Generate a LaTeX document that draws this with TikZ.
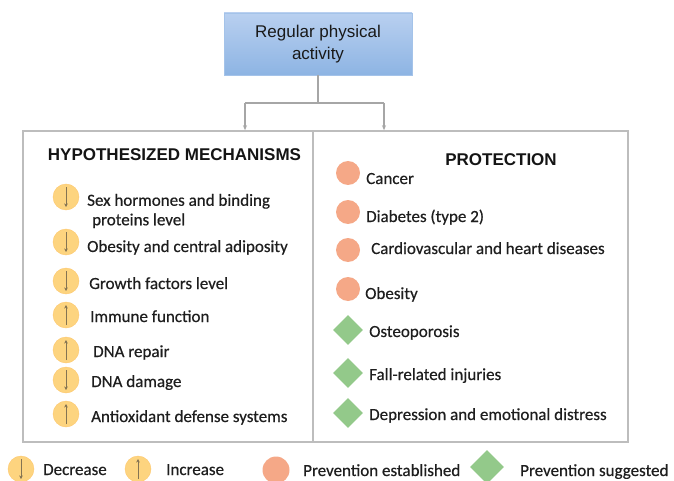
\documentclass[tikz,border=0pt]{standalone}
\usepackage{fontspec}
\setmainfont{Carlito}
\newfontfamily\itemf{Carlito}[FakeBold=0.5]
\newfontfamily\arialf{Liberation Sans}
\usetikzlibrary{shapes.geometric,arrows.meta,calc}
\definecolor{ycol}{HTML}{FDD47F}
\definecolor{ocol}{HTML}{F5A887}
\definecolor{gcol}{HTML}{93C98A}
\definecolor{arrcol}{HTML}{857452}
\definecolor{framecol}{HTML}{BDBDBD}
\definecolor{conncol}{HTML}{A6A6A6}
\definecolor{txtcol}{HTML}{1E1E1E}
\definecolor{boxtop}{HTML}{B9D0F0}
\definecolor{boxbot}{HTML}{8DB4E3}
\tikzset{
  ycirc/.style={circle, fill=ycol, draw=ycol!85!orange, line width=0.4pt, minimum size=26pt, inner sep=0pt},
  ocirc/.style={circle, fill=ocol, minimum size=24pt, inner sep=0pt},
  gdiam/.style={diamond, fill=gcol, minimum width=30pt, minimum height=30pt, inner sep=0pt},
  itemtxt/.style={anchor=west, inner sep=0pt, text height=14pt, text depth=2pt, font=\itemf\fontsize{17}{20}\selectfont, text=txtcol},
  headtxt/.style={inner sep=0pt, font=\arialf\bfseries\fontsize{17}{20}\selectfont, text=black!92},
  inarr/.style={draw=arrcol, line width=0.8pt, -{Stealth[length=3.5pt,width=3.5pt]}},
  conn/.style={draw=conncol, line width=1.3pt},
}
\begin{document}
\begin{tikzpicture}[x=1pt,y=-1pt]
\useasboundingbox (0,0) rectangle (674,481);
% top box
\node[minimum width=188pt, minimum height=62pt, top color=boxtop, bottom color=boxbot, draw=boxbot!80!white, line width=0.4pt,
  align=center, inner sep=0pt, font=\arialf\fontsize{17}{22}\selectfont, text=black!90] (top) at (318,44) {Regular physical\\activity};
% panel
\node[draw=framecol, line width=1.5pt, minimum width=605pt, minimum height=311pt, inner sep=0pt] (panel) at (325.5,286.5) {};
\coordinate (divT) at (313,131);
\coordinate (divB) at (313,442);
\draw[draw=framecol, line width=1.3pt] (divT) -- (divB);
% connectors
\coordinate (jL) at (245,103);
\coordinate (jR) at (384,103);
\draw[conn] (top.south) -- (top.south |- jL);
\draw[conn] (jL) -- (jR);
\draw[conn, -{Stealth[length=5pt,width=4pt]}] (jL) -- (jL |- panel.north);
\draw[conn, -{Stealth[length=5pt,width=4pt]}] (jR) -- (jR |- panel.north);
% headers
\node[headtxt] (hm) at (174.5,155) {HYPOTHESIZED MECHANISMS};
\node[headtxt] (hp) at (501,160) {PROTECTION};
% left items
\node[ycirc] (l1) at (66,197) {};
\node[ycirc] (l2) at (66,242) {};
\node[ycirc] (l3) at (66,281) {};
\node[ycirc] (l4) at (66,315) {};
\node[ycirc] (l5) at (66,350) {};
\node[ycirc] (l6) at (66,380) {};
\node[ycirc] (l7) at (66,414) {};
\foreach \n in {l1,l2,l3,l6}{\draw[inarr] ($(\n)+(0,-10)$) -- ($(\n)+(0,10)$);}
\foreach \n in {l4,l5,l7}{\draw[inarr] ($(\n)+(0,10)$) -- ($(\n)+(0,-10)$);}
\node[itemtxt, align=left, text height=, text depth=] (t1) at (87,211) {Sex hormones and binding\\[-0.5pt]\hspace{5pt}proteins level};
\node[itemtxt] (t2) at (87,246) {Obesity and central adiposity};
\node[itemtxt] (t3) at (89,283) {Growth factors level};
\node[itemtxt] (t4) at (90,316) {Immune function};
\node[itemtxt] (t5) at (93,351) {DNA repair};
\node[itemtxt] (t6) at (91,381) {DNA damage};
\node[itemtxt] (t7) at (91,416) {Antioxidant defense systems};
% right items
\node[ocirc] (r1) at (348,173) {};
\node[ocirc] (r2) at (348,212) {};
\node[ocirc] (r3) at (348,250) {};
\node[ocirc] (r4) at (348,289) {};
\node[gdiam] (r5) at (348,330) {};
\node[gdiam] (r6) at (348,373) {};
\node[gdiam] (r7) at (348,413) {};
\node[itemtxt] (s1) at (366,178) {Cancer};
\node[itemtxt] (s2) at (366,216) {Diabetes (type 2)};
\node[itemtxt] (s3) at (371,248) {Cardiovascular and heart diseases};
\node[itemtxt] (s4) at (365,293) {Obesity};
\node[itemtxt] (s5) at (369,331) {Osteoporosis};
\node[itemtxt] (s6) at (369,374) {Fall-related injuries};
\node[itemtxt] (s7) at (369,414) {Depression and emotional distress};
% legend
\node[ycirc] (gdec) at (21,469) {};
\draw[inarr] ($(gdec)+(0,-10)$) -- ($(gdec)+(0,10)$);
\node[itemtxt] (ldec) at (43,469) {Decrease};
\node[ycirc] (ginc) at (138,469) {};
\draw[inarr] ($(ginc)+(0,10)$) -- ($(ginc)+(0,-10)$);
\node[itemtxt] (linc) at (166,469) {Increase};
\node[ocirc, minimum size=27pt] (gest) at (276,470) {};
\node[itemtxt] (lest) at (303,470) {Prevention established};
\node[gdiam, minimum width=34pt, minimum height=34pt] (gsug) at (487,467) {};
\node[itemtxt] (lsug) at (520,470) {Prevention suggested};
\end{tikzpicture}
\end{document}
